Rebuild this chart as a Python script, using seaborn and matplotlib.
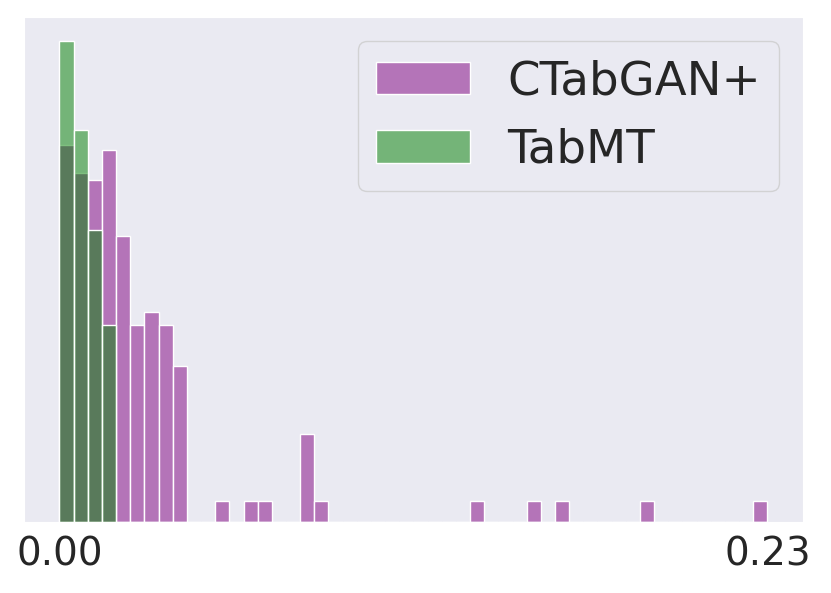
import matplotlib
matplotlib.use("Agg")
import matplotlib.pyplot as plt
import numpy as np
import pandas as pd
import seaborn as sns

# Bin grid: 50 equal bins from 0 to 0.23
x_min, x_max, n_bins = 0.0, 0.23, 50

# CTabGAN+ (purple): bin index -> bar height (relative units)
ctabgan_bin = [0, 1, 2, 3, 4, 5, 6, 7, 8, 11, 13, 14, 17, 18, 29, 33, 35, 41, 49]
ctabgan_val = [17.4, 16.1, 15.8, 17.2, 13.2, 9.1, 9.7, 9.1, 7.2,
               1, 1, 1, 4.1, 1, 1, 1, 1, 1, 1]

# TabMT (green)
tabmt_bin = [0, 1, 2, 3]
tabmt_val = [22.2, 18.1, 13.5, 9.1]

tick_vals = [0.0, 0.23]
tick_labels = ["0.00", "0.23"]

edges = np.linspace(x_min, x_max, n_bins + 1)
centers = (edges[:-1] + edges[1:]) / 2

df_c = pd.DataFrame({"x": centers[ctabgan_bin], "w": ctabgan_val})
df_t = pd.DataFrame({"x": centers[tabmt_bin], "w": tabmt_val})

sns.set_style("darkgrid")
fig, ax = plt.subplots(figsize=(8.31, 5.93), dpi=100)
fig.subplots_adjust(left=0.029, right=0.966, top=0.971, bottom=0.119)

sns.histplot(data=df_c, x="x", weights="w", bins=n_bins, binrange=(x_min, x_max),
             color="purple", alpha=0.5, label="CTabGAN+", ax=ax)
sns.histplot(data=df_t, x="x", weights="w", bins=n_bins, binrange=(x_min, x_max),
             color="green", alpha=0.5, label="TabMT", ax=ax)

ax.grid(False)
ax.set_xticks(tick_vals)
ax.set_xticklabels(tick_labels)
ax.set_yticks([])
ax.set_xlabel("")
ax.set_ylabel("")
ax.tick_params(axis="x", labelsize=28, pad=6, colors="#262626")
ax.legend(loc="upper right", fontsize=33.6)

fig.savefig("out.png", dpi=100)
